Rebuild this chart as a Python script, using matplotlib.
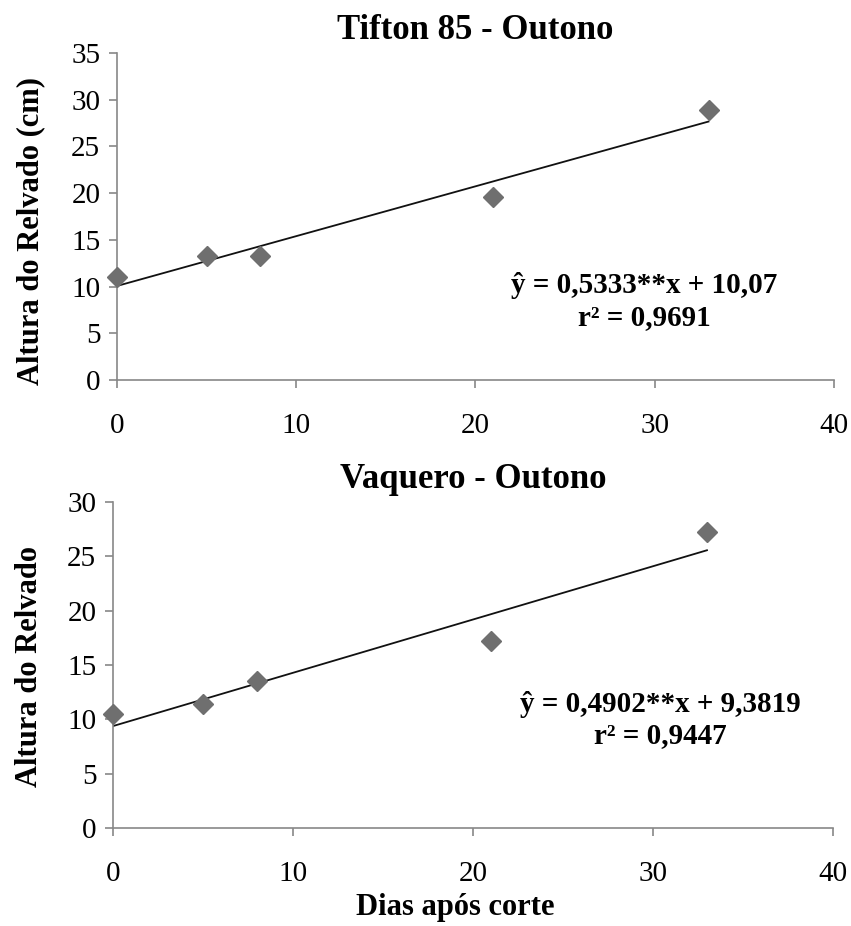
import matplotlib
matplotlib.use("Agg")
import matplotlib.pyplot as plt
import numpy as np

plt.rcParams['font.family'] = ['Liberation Serif', 'DejaVu Serif']

# Data
dias = [0, 5, 8, 21, 33]
tifton = [11.0, 13.3, 13.3, 19.6, 28.9]
vaquero = [10.5, 11.4, 13.5, 17.2, 27.2]

tifton_coef = (0.5333, 10.07)
vaquero_coef = (0.4902, 9.3819)

titles = ["Tifton 85 - Outono", "Vaquero - Outono"]
ylabels = ["Altura do Relvado (cm)", "Altura do Relvado"]
eqs = ["ŷ = 0,5333**x + 10,07\nr² = 0,9691", "ŷ = 0,4902**x + 9,3819\nr² = 0,9447"]
xticks = [0, 10, 20, 30, 40]
yticks_top = [0, 5, 10, 15, 20, 25, 30, 35]
yticks_bot = [0, 5, 10, 15, 20, 25, 30]

fig = plt.figure(figsize=(8.51, 9.26), dpi=100)
ax1 = fig.add_axes([0.1375, 0.5896, 0.8425, 0.3531])
ax2 = fig.add_axes([0.1328, 0.1058, 0.8460, 0.3521])

spine_col = '#888888'
marker_col = '#6f6f6f'

def style(ax, yticks, ymax):
    ax.set_xlim(0, 40)
    ax.set_ylim(0, ymax)
    ax.set_xticks(xticks)
    ax.set_yticks(yticks)
    for s in ['top', 'right']:
        ax.spines[s].set_visible(False)
    for s in ['left', 'bottom']:
        ax.spines[s].set_color(spine_col)
        ax.spines[s].set_linewidth(1.2)
    ax.tick_params(axis='x', direction='out', length=6, width=1.2, color=spine_col,
                   pad=18, labelsize=21)
    ax.tick_params(axis='y', direction='out', length=6, width=1.2, color=spine_col,
                   pad=6, labelsize=21)

for ax, ys, coef, title, ylab, eq, yt, ymax, eqpos, ylc in [
        (ax1, tifton, tifton_coef, titles[0], ylabels[0], eqs[0], yticks_top, 35, (29.4, 8.4), (-0.100, 0.456)),
        (ax2, vaquero, vaquero_coef, titles[1], ylabels[1], eqs[1], yticks_bot, 30, (30.4, 9.94), (-0.096, 0.494))]:
    style(ax, yt, ymax)
    xl = np.array([dias[0], dias[-1]])
    ax.plot(xl, coef[0] * xl + coef[1], color='#111111', lw=1.3, zorder=2)
    ax.plot(dias, ys, linestyle='none', marker='D', markersize=10.5,
            color=marker_col, markeredgecolor=marker_col, zorder=3, clip_on=False)
    ax.set_title(title, fontsize=25, fontweight='bold', pad=10)
    ax.set_ylabel(ylab, fontsize=22, fontweight='bold')
    ax.yaxis.set_label_coords(*ylc)
    ax.text(eqpos[0], eqpos[1], eq, ha='center', va='center', fontsize=21,
            fontweight='bold', linespacing=1.2)

ax2.set_xlabel("Dias após corte", fontsize=22, fontweight='bold')
ax2.xaxis.set_label_coords(0.476, -0.2)

fig.savefig("out.png", dpi=100)
